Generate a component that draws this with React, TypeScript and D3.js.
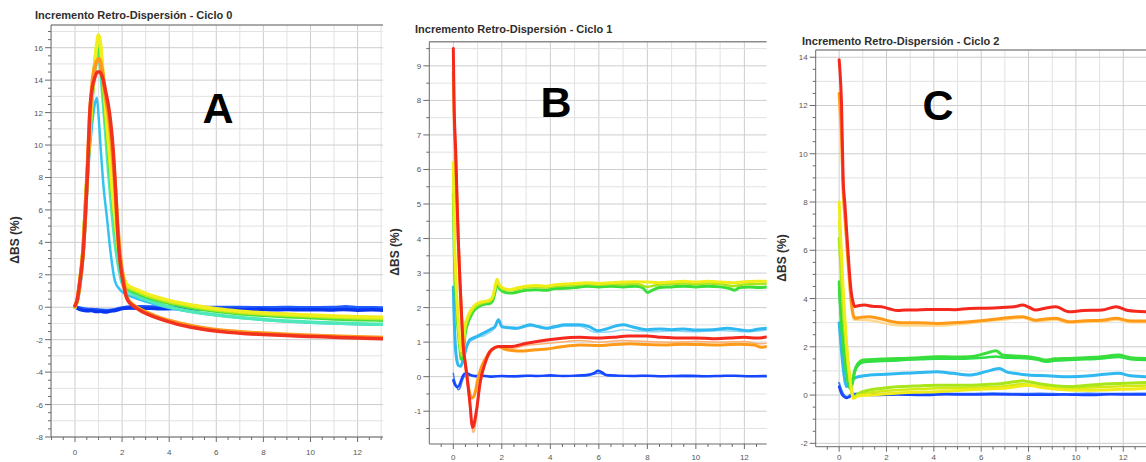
import React from 'react';
import * as d3 from 'd3';

type Pt = [number, number];

const FONT = '"Liberation Sans", Arial, Helvetica, sans-serif';

// tick labels
const xTicks = [0, 2, 4, 6, 8, 10, 12];
const yTicksA = [-8, -6, -4, -2, 0, 2, 4, 6, 8, 10, 12, 14, 16];
const yTicksB = [-1, 0, 1, 2, 3, 4, 5, 6, 7, 8, 9];
const yTicksC = [-2, 0, 2, 4, 6, 8, 10, 12, 14];

// ---- Ciclo 0 (A) ----
const aBlue: Pt[] = [[0, 0.05], [0.12, -0.08], [0.3, -0.18], [0.5, -0.22], [0.7, -0.2], [0.9, -0.27], [1.1, -0.25], [1.3, -0.3], [1.5, -0.24], [1.7, -0.2], [1.9, -0.12], [2.1, -0.06], [2.4, -0.05], [2.8, -0.08], [3.2, -0.06], [3.6, -0.1], [4.2, -0.08], [4.8, -0.12], [5.4, -0.1], [6, -0.13], [6.6, -0.12], [7.2, -0.15], [7.8, -0.13], [8.4, -0.16], [9, -0.14], [9.6, -0.16], [10.2, -0.15], [10.8, -0.17], [11.4, -0.14], [12, -0.18], [12.6, -0.16], [13.1, -0.18]];
const aBlue2: Pt[] = [[0, 0], [0.2, -0.05], [0.5, -0.12], [0.8, -0.15], [1.1, -0.18], [1.4, -0.2], [1.7, -0.15], [2.0, -0.05], [2.3, 0.02], [2.8, 0.03], [3.4, 0.02], [4, 0], [5, 0], [6, -0.02], [7, -0.02], [8, -0.03], [9, -0.02], [10, -0.03], [11, -0.02], [11.5, 0.03], [12, -0.03], [13.1, -0.04]];
const aCyan: Pt[] = [[0, 0], [0.15, 0.6], [0.3, 2.2], [0.45, 5.2], [0.57, 8.6], [0.72, 11.2], [0.85, 12.6], [0.93, 12.9], [1.0, 11.8], [1.1, 9.6], [1.22, 7.3], [1.35, 5.6], [1.5, 3.5], [1.7, 1.6], [1.9, 1.1], [2.1, 0.85], [2.5, 0.6], [3, 0.35], [4, -0.05], [5, -0.3], [6, -0.5], [7, -0.65], [8, -0.78], [9, -0.88], [10, -0.95], [11, -1.0], [12, -1.05], [13.1, -1.08]];
const aTeal: Pt[] = [[0, 0], [0.1, 0.5], [0.2, 1.5], [0.35, 3.6], [0.45, 6.2], [0.57, 9.3], [0.7, 12.2], [0.82, 14.3], [0.92, 15.3], [0.98, 15.5], [1.06, 15.0], [1.18, 13.0], [1.3, 10.8], [1.42, 8.4], [1.55, 6.2], [1.7, 4.0], [1.85, 2.5], [2.0, 1.5], [2.2, 1.05], [2.6, 0.72], [3, 0.48], [3.5, 0.22], [4, 0.02], [5, -0.28], [6, -0.48], [7, -0.63], [8, -0.75], [9, -0.85], [10, -0.92], [11, -0.97], [12, -1.02], [13.1, -1.05]];
const aGreen: Pt[] = [[0, 0], [0.1, 0.5], [0.2, 1.5], [0.35, 3.7], [0.45, 6.4], [0.57, 9.5], [0.7, 12.5], [0.82, 14.6], [0.92, 15.7], [1.0, 16.0], [1.08, 15.5], [1.2, 13.4], [1.35, 10.8], [1.48, 8.6], [1.6, 6.6], [1.72, 5.0], [1.87, 3.2], [2.0, 2.0], [2.1, 1.5], [2.2, 1.2], [2.6, 0.9], [3, 0.65], [3.5, 0.42], [4, 0.25], [5, -0.05], [6, -0.25], [7, -0.4], [8, -0.5], [9, -0.58], [10, -0.65], [11, -0.72], [12, -0.77], [13.1, -0.8]];
const aLime: Pt[] = [[0, 0], [0.1, 0.5], [0.2, 1.5], [0.35, 3.8], [0.45, 6.5], [0.57, 9.5], [0.7, 12.6], [0.82, 14.8], [0.92, 16.1], [1.0, 16.5], [1.08, 16.0], [1.2, 13.9], [1.35, 11.2], [1.49, 8.9], [1.6, 6.9], [1.7, 5.4], [1.85, 3.5], [2.0, 2.2], [2.1, 1.65], [2.2, 1.3], [2.6, 1.0], [3, 0.75], [3.5, 0.52], [4, 0.33], [5, 0.05], [6, -0.17], [7, -0.32], [8, -0.42], [9, -0.5], [10, -0.55], [11, -0.62], [12, -0.67], [13.1, -0.7]];
const aYellow: Pt[] = [[0, 0], [0.1, 0.5], [0.2, 1.5], [0.35, 3.8], [0.45, 6.5], [0.57, 9.5], [0.7, 12.5], [0.82, 14.5], [0.92, 16.2], [1.0, 16.8], [1.08, 16.3], [1.2, 14.2], [1.35, 11.5], [1.49, 9.1], [1.6, 7.0], [1.7, 5.6], [1.85, 3.6], [2.0, 2.2], [2.1, 1.7], [2.2, 1.4], [2.6, 1.1], [3, 0.85], [3.5, 0.62], [4, 0.42], [5, 0.12], [6, -0.1], [7, -0.25], [8, -0.35], [9, -0.42], [10, -0.48], [11, -0.54], [12, -0.58], [13.1, -0.62]];
const aOrange: Pt[] = [[0, 0.05], [0.1, 0.5], [0.2, 1.5], [0.35, 3.6], [0.45, 6.2], [0.55, 9.2], [0.64, 12.0], [0.75, 14.0], [0.88, 15.0], [1.02, 15.3], [1.15, 14.6], [1.3, 13.0], [1.45, 11.6], [1.58, 9.8], [1.7, 7.5], [1.8, 5.2], [1.9, 3.4], [2.0, 2.2], [2.1, 1.3], [2.2, 0.6], [2.5, 0.1], [2.8, -0.15], [3.2, -0.42], [3.6, -0.65], [4, -0.83], [4.5, -1.02], [5, -1.17], [5.7, -1.34], [6.5, -1.47], [7.3, -1.56], [8, -1.61], [9, -1.68], [10, -1.74], [11, -1.79], [12, -1.84], [13.1, -1.88]];
const aRed: Pt[] = [[0, 0.1], [0.1, 0.5], [0.2, 1.5], [0.35, 3.5], [0.45, 6.0], [0.55, 9.0], [0.62, 11.8], [0.72, 13.4], [0.85, 14.2], [0.95, 14.5], [1.06, 14.5], [1.18, 14.1], [1.3, 13.3], [1.42, 12.4], [1.52, 11.3], [1.63, 9.5], [1.72, 7.3], [1.8, 5.0], [1.88, 3.3], [1.97, 2.2], [2.05, 1.5], [2.15, 0.8], [2.25, 0.4], [2.5, 0.05], [2.76, -0.2], [3.2, -0.5], [3.6, -0.72], [4, -0.9], [4.5, -1.1], [5, -1.25], [5.7, -1.42], [6.5, -1.55], [7.3, -1.63], [8, -1.68], [9, -1.75], [10, -1.8], [11, -1.85], [12, -1.9], [13.1, -1.95]];

// ---- Ciclo 1 (B) ----
const bBlue: Pt[] = [[0, -0.1], [0.06, -0.22], [0.14, -0.3], [0.22, -0.28], [0.3, -0.15], [0.38, 0], [0.46, 0.08], [0.55, 0.1], [0.7, 0.05], [0.9, 0.02], [1.2, 0.03], [1.6, 0], [2.0, 0.02], [2.5, 0.01], [3.0, 0.03], [3.5, 0.02], [4.0, 0.04], [4.5, 0.02], [5.0, 0.03], [5.5, 0.05], [5.8, 0.1], [5.95, 0.17], [6.1, 0.14], [6.3, 0.05], [6.8, 0.03], [7.4, 0.02], [8.0, 0.03], [8.6, 0.01], [9.2, 0.02], [9.8, 0.03], [10.4, 0.01], [11.0, 0.02], [11.6, 0.03], [12.2, 0.01], [12.95, 0.02]];
const bBlue2: Pt[] = [[0, 0.1], [0.05, -0.1], [0.12, -0.25], [0.2, -0.38], [0.28, -0.33], [0.36, -0.15], [0.45, 0], [0.6, 0.04], [0.9, 0], [1.5, 0.02], [2.5, 0], [3.5, 0.02], [4.5, 0.01], [5.5, 0.02], [6.0, 0.1], [6.4, 0.02], [7.5, 0.01], [8.5, 0.02], [9.5, 0], [10.5, 0.01], [11.5, 0.02], [12.95, 0]];
const bCyan: Pt[] = [[0, 2.6], [0.04, 1.6], [0.08, 0.95], [0.14, 0.5], [0.22, 0.32], [0.3, 0.3], [0.41, 0.5], [0.55, 0.87], [0.69, 1.07], [0.96, 1.16], [1.24, 1.26], [1.51, 1.36], [1.72, 1.45], [1.86, 1.65], [2.0, 1.45], [2.3, 1.42], [2.6, 1.4], [3.16, 1.5], [3.5, 1.45], [3.85, 1.4], [4.2, 1.45], [4.6, 1.5], [5.2, 1.5], [5.6, 1.45], [5.95, 1.33], [6.3, 1.38], [6.6, 1.45], [7.0, 1.5], [7.4, 1.44], [7.97, 1.36], [8.5, 1.38], [9, 1.36], [9.5, 1.38], [10, 1.35], [10.7, 1.36], [11.3, 1.4], [11.8, 1.36], [12.2, 1.33], [12.6, 1.38], [12.95, 1.4]];
const bCyan2: Pt[] = [[0, 2.2], [0.08, 0.9], [0.2, 0.35], [0.3, 0.32], [0.45, 0.6], [0.6, 0.95], [0.9, 1.1], [1.3, 1.2], [1.7, 1.4], [1.86, 1.6], [2.0, 1.42], [2.6, 1.38], [3.2, 1.46], [3.9, 1.38], [4.6, 1.46], [5.2, 1.46], [5.9, 1.28], [6.5, 1.3], [7.0, 1.36], [7.6, 1.32], [8.2, 1.3], [9, 1.32], [10, 1.3], [11, 1.34], [12, 1.3], [12.95, 1.35]];
const bGreen: Pt[] = [[0, 5.3], [0.04, 3.6], [0.1, 2.4], [0.18, 1.5], [0.26, 0.9], [0.33, 0.5], [0.4, 0.6], [0.48, 1.2], [0.6, 1.55], [0.75, 1.8], [0.9, 1.95], [1.1, 2.05], [1.3, 2.1], [1.5, 2.12], [1.62, 2.2], [1.72, 2.45], [1.8, 2.72], [1.9, 2.55], [2.1, 2.45], [2.34, 2.42], [2.7, 2.46], [3.0, 2.5], [3.4, 2.52], [3.8, 2.5], [4.2, 2.55], [4.6, 2.56], [5.0, 2.58], [5.5, 2.62], [6.0, 2.6], [6.5, 2.62], [7.0, 2.6], [7.5, 2.62], [7.8, 2.58], [8.0, 2.44], [8.2, 2.5], [8.5, 2.58], [9.0, 2.6], [9.5, 2.62], [10.0, 2.6], [10.5, 2.62], [11.0, 2.6], [11.4, 2.55], [11.6, 2.5], [11.8, 2.58], [12.2, 2.6], [12.6, 2.58], [12.95, 2.6]];
const bLime: Pt[] = [[0, 5.8], [0.04, 4.0], [0.1, 2.7], [0.18, 1.7], [0.26, 1.0], [0.33, 0.6], [0.4, 0.75], [0.48, 1.35], [0.6, 1.65], [0.75, 1.88], [0.9, 2.02], [1.1, 2.1], [1.3, 2.15], [1.5, 2.18], [1.62, 2.28], [1.72, 2.55], [1.8, 2.8], [1.9, 2.62], [2.1, 2.52], [2.34, 2.5], [2.7, 2.54], [3.0, 2.58], [3.4, 2.6], [3.8, 2.58], [4.2, 2.62], [4.6, 2.63], [5.0, 2.65], [5.5, 2.68], [6.0, 2.66], [6.5, 2.68], [7.0, 2.67], [7.5, 2.7], [8.0, 2.6], [8.3, 2.64], [8.6, 2.67], [9.0, 2.68], [9.5, 2.7], [10.0, 2.68], [10.5, 2.7], [11.0, 2.68], [11.5, 2.62], [12.0, 2.67], [12.5, 2.68], [12.95, 2.7]];
const bYellow: Pt[] = [[0, 6.2], [0.04, 4.4], [0.1, 3.0], [0.18, 1.9], [0.26, 1.1], [0.33, 0.75], [0.4, 0.9], [0.48, 1.45], [0.6, 1.75], [0.75, 1.95], [0.9, 2.08], [1.1, 2.15], [1.3, 2.18], [1.5, 2.22], [1.62, 2.32], [1.72, 2.6], [1.8, 2.82], [1.9, 2.66], [2.1, 2.55], [2.34, 2.52], [2.7, 2.58], [3.0, 2.62], [3.4, 2.64], [3.8, 2.62], [4.2, 2.66], [4.6, 2.68], [5.0, 2.7], [5.5, 2.72], [6.0, 2.7], [6.5, 2.72], [7.0, 2.74], [7.5, 2.75], [8.0, 2.74], [8.5, 2.72], [9.0, 2.74], [9.5, 2.76], [10.0, 2.74], [10.5, 2.76], [11.0, 2.74], [11.5, 2.72], [12.0, 2.75], [12.5, 2.76], [12.95, 2.76]];
const bOrange2: Pt[] = [[0, 9.0], [0.05, 7.6], [0.12, 5.8], [0.2, 4.0], [0.28, 2.6], [0.36, 1.4], [0.45, 0.6], [0.55, 0], [0.65, -0.7], [0.75, -1.4], [0.82, -1.62], [0.9, -1.45], [1.0, -0.9], [1.12, -0.2], [1.3, 0.35], [1.55, 0.7], [1.86, 0.85], [2.4, 0.82], [3.0, 0.9], [3.7, 0.95], [4.4, 1.0], [5.2, 1.05], [6.0, 1.0], [7.0, 1.05], [8.0, 1.02], [9.0, 1.0], [10, 1.02], [11, 1.0], [12, 1.02], [12.7, 0.95], [12.95, 0.98]];
const bOrange: Pt[] = [[0, 8.8], [0.03, 7.6], [0.1, 6.2], [0.16, 4.8], [0.21, 3.8], [0.28, 2.6], [0.35, 1.6], [0.41, 0.9], [0.5, 0.35], [0.6, -0.2], [0.68, -0.5], [0.76, -0.62], [0.84, -0.58], [0.92, -0.4], [1.0, -0.1], [1.1, 0.15], [1.2, 0.35], [1.35, 0.55], [1.5, 0.72], [1.7, 0.83], [1.86, 0.87], [2.1, 0.8], [2.4, 0.76], [2.89, 0.74], [3.4, 0.78], [3.85, 0.8], [4.4, 0.86], [5.22, 0.92], [6, 0.9], [6.6, 0.93], [7.3, 0.95], [8, 0.93], [8.8, 0.92], [9.5, 0.94], [10.2, 0.93], [11, 0.92], [11.8, 0.94], [12.4, 0.92], [12.7, 0.85], [12.95, 0.88]];
const bRed: Pt[] = [[0, 9.5], [0.03, 8.0], [0.1, 6.5], [0.16, 5.0], [0.21, 3.9], [0.28, 2.7], [0.35, 1.64], [0.41, 0.87], [0.48, 0.45], [0.55, 0.1], [0.62, -0.35], [0.69, -0.8], [0.76, -1.35], [0.8, -1.47], [0.86, -1.35], [0.96, -0.96], [1.1, -0.19], [1.31, 0.39], [1.58, 0.78], [1.86, 0.87], [2.34, 0.87], [3.03, 0.97], [3.71, 1.05], [4.3, 1.1], [5.22, 1.14], [6, 1.12], [6.6, 1.14], [7.2, 1.18], [7.97, 1.18], [8.6, 1.14], [9.3, 1.12], [10, 1.12], [10.7, 1.1], [11.4, 1.12], [12, 1.14], [12.5, 1.12], [12.95, 1.15]];

// ---- Ciclo 2 (C) ----
const cBlue: Pt[] = [[0, 0.35], [0.08, 0.1], [0.18, -0.05], [0.3, -0.12], [0.42, -0.08], [0.55, 0], [0.8, 0.02], [1.5, 0], [2.5, 0.02], [3.5, 0], [4.5, 0.03], [5.5, 0.02], [6.5, 0.03], [7.5, 0.02], [8.5, 0.01], [9.5, 0.02], [10.5, 0], [11.5, 0.03], [12.4, 0.02], [12.95, 0.02]];
const cBlue2: Pt[] = [[0, 0.5], [0.1, 0.2], [0.22, -0.02], [0.35, -0.08], [0.5, 0.03], [0.8, 0.06], [1.5, 0.05], [2.5, 0.06], [3.5, 0.04], [4.5, 0.06], [5.5, 0.05], [6.5, 0.07], [7.5, 0.05], [8.5, 0.06], [9.5, 0.04], [10.5, 0.06], [11.5, 0.05], [12.95, 0.06]];
const cCyan: Pt[] = [[0, 3.0], [0.05, 2.4], [0.15, 1.3], [0.25, 0.55], [0.31, 0.35], [0.4, 0.45], [0.52, 0.62], [0.65, 0.7], [0.8, 0.76], [1.29, 0.83], [2.0, 0.86], [2.69, 0.9], [3.4, 0.93], [4.1, 0.97], [4.8, 0.9], [5.5, 0.83], [6.2, 0.97], [6.77, 1.1], [7.1, 0.95], [7.4, 0.9], [7.98, 0.83], [8.8, 0.8], [9.7, 0.76], [10.6, 0.8], [11.2, 0.86], [11.8, 0.9], [12.3, 0.8], [12.95, 0.76]];
const cGreen: Pt[] = [[0, 4.7], [0.05, 3.8], [0.12, 2.8], [0.2, 1.9], [0.3, 1.05], [0.4, 0.5], [0.48, 0.3], [0.55, 0.5], [0.65, 1.0], [0.8, 1.31], [1.01, 1.45], [1.6, 1.48], [2.2, 1.5], [2.69, 1.52], [3.4, 1.55], [4.1, 1.59], [4.8, 1.58], [5.5, 1.59], [6.2, 1.73], [6.63, 1.84], [6.9, 1.66], [7.4, 1.62], [7.98, 1.59], [8.4, 1.52], [8.73, 1.45], [9.1, 1.5], [9.7, 1.52], [10.4, 1.55], [11.1, 1.59], [11.8, 1.66], [12.3, 1.55], [12.95, 1.52]];
const cGreen2: Pt[] = [[0, 4.4], [0.05, 3.5], [0.12, 2.5], [0.2, 1.65], [0.3, 0.9], [0.4, 0.4], [0.48, 0.25], [0.56, 0.45], [0.66, 0.95], [0.8, 1.22], [1.01, 1.36], [1.6, 1.4], [2.2, 1.42], [2.69, 1.45], [3.4, 1.48], [4.1, 1.5], [4.8, 1.5], [5.5, 1.52], [6.2, 1.56], [6.63, 1.6], [6.9, 1.56], [7.4, 1.54], [7.98, 1.52], [8.4, 1.46], [8.73, 1.38], [9.1, 1.42], [9.7, 1.45], [10.4, 1.48], [11.1, 1.52], [11.8, 1.58], [12.3, 1.48], [12.95, 1.45]];
const cLime: Pt[] = [[0, 6.5], [0.1, 4.8], [0.2, 3.2], [0.3, 2.0], [0.4, 1.0], [0.5, 0.35], [0.58, 0], [0.66, -0.07], [0.8, 0.05], [1.29, 0.21], [2.0, 0.3], [2.69, 0.35], [3.4, 0.38], [4.1, 0.41], [5.5, 0.41], [6.2, 0.44], [6.9, 0.48], [7.4, 0.55], [7.75, 0.59], [8.0, 0.55], [8.6, 0.45], [9.2, 0.38], [9.7, 0.35], [10.4, 0.4], [11.1, 0.45], [11.8, 0.48], [12.4, 0.5], [12.95, 0.52]];
const cLime2: Pt[] = [[0, 7.2], [0.1, 5.3], [0.2, 3.6], [0.3, 2.2], [0.4, 1.1], [0.5, 0.4], [0.6, -0.05], [0.68, -0.1], [0.8, 0], [1.29, 0.1], [2.0, 0.18], [2.69, 0.22], [3.4, 0.25], [4.1, 0.28], [5.5, 0.3], [6.2, 0.32], [6.9, 0.36], [7.4, 0.42], [7.75, 0.46], [8.0, 0.42], [8.6, 0.34], [9.2, 0.28], [9.7, 0.26], [10.4, 0.3], [11.1, 0.33], [11.8, 0.36], [12.4, 0.38], [12.95, 0.4]];
const cYellow: Pt[] = [[0, 8.0], [0.08, 6.2], [0.18, 4.2], [0.28, 2.6], [0.38, 1.4], [0.48, 0.5], [0.55, 0], [0.6, -0.14], [0.7, -0.08], [0.9, -0.02], [1.29, 0], [2.0, 0.05], [2.7, 0.1], [3.4, 0.12], [4.1, 0.14], [4.8, 0.18], [5.5, 0.22], [6.2, 0.25], [6.9, 0.28], [7.5, 0.35], [8.0, 0.41], [8.5, 0.32], [9.0, 0.26], [9.7, 0.21], [10.4, 0.2], [11.1, 0.21], [11.8, 0.24], [12.4, 0.25], [12.95, 0.28]];
const cPale: Pt[] = [[0, 12.0], [0.1, 10.3], [0.17, 8.2], [0.24, 7.2], [0.38, 5.3], [0.52, 3.6], [0.62, 3.12], [0.9, 3.12], [1.29, 3.1], [1.8, 3.0], [2.2, 2.92], [2.69, 2.88], [3.3, 2.88], [4.1, 2.88], [4.8, 2.92], [5.5, 2.98], [6.2, 3.06], [6.9, 3.12], [7.75, 3.2], [8.3, 3.06], [9.15, 3.12], [9.7, 3.0], [10.4, 3.03], [11.1, 3.05], [11.7, 3.12], [12.3, 3.02], [12.95, 3.02]];
const cOrange: Pt[] = [[0, 12.5], [0.1, 10.8], [0.17, 8.5], [0.24, 7.5], [0.38, 5.5], [0.52, 3.8], [0.62, 3.25], [0.66, 3.18], [0.9, 3.22], [1.29, 3.25], [1.8, 3.15], [2.2, 3.05], [2.69, 3.0], [3.3, 3.0], [4.1, 2.97], [4.8, 3.0], [5.5, 3.04], [6.2, 3.1], [6.9, 3.18], [7.75, 3.25], [8.3, 3.1], [8.7, 3.15], [9.15, 3.18], [9.7, 3.04], [10.4, 3.08], [11.1, 3.1], [11.7, 3.18], [12.3, 3.07], [12.95, 3.07]];
const cRed: Pt[] = [[0, 13.9], [0.03, 13.5], [0.1, 12.1], [0.17, 8.9], [0.24, 7.95], [0.31, 6.9], [0.38, 5.87], [0.45, 4.9], [0.52, 4.2], [0.6, 3.8], [0.66, 3.66], [0.8, 3.7], [1.08, 3.73], [1.4, 3.68], [1.79, 3.66], [2.1, 3.58], [2.48, 3.5], [2.8, 3.52], [3.19, 3.52], [3.7, 3.55], [4.3, 3.55], [4.9, 3.54], [5.5, 3.59], [6.2, 3.6], [6.9, 3.63], [7.4, 3.66], [7.75, 3.73], [8.0, 3.65], [8.3, 3.52], [8.7, 3.6], [9.15, 3.66], [9.7, 3.45], [10.3, 3.5], [11.1, 3.52], [11.7, 3.66], [12.2, 3.5], [12.95, 3.45]];

const seriesA = [
  { c: '#1f5cff', w: 3.5, pts: aBlue2 },
  { c: '#0a36f0', w: 3.5, pts: aBlue },
  { c: '#34c2f2', w: 2.5, pts: aCyan },
  { c: '#4fe8b8', w: 3.5, pts: aTeal },
  { c: '#45e040', w: 3.5, pts: aGreen },
  { c: '#b6ec1c', w: 3.5, pts: aLime },
  { c: '#f2ee1e', w: 3.5, pts: aYellow },
  { c: '#ff9a1e', w: 4, pts: aOrange },
  { c: '#f0321e', w: 3.5, pts: aRed },
];
const seriesB = [
  { c: '#3a7aff', w: 1.5, pts: bBlue2 },
  { c: '#1646ff', w: 2.5, pts: bBlue },
  { c: '#8fd8f5', w: 1.5, pts: bCyan2 },
  { c: '#30b8f0', w: 3, pts: bCyan },
  { c: '#3ade3a', w: 3, pts: bGreen },
  { c: '#a8e61a', w: 2.5, pts: bLime },
  { c: '#f0ec18', w: 3, pts: bYellow },
  { c: '#ffb070', w: 1.5, pts: bOrange2 },
  { c: '#ff9a18', w: 3, pts: bOrange },
  { c: '#f5281e', w: 3, pts: bRed },
];
const seriesC = [
  { c: '#3a7aff', w: 2, pts: cBlue2 },
  { c: '#1646ff', w: 2.5, pts: cBlue },
  { c: '#30b8f0', w: 3, pts: cCyan },
  { c: '#2ee048', w: 2.5, pts: cGreen2 },
  { c: '#3ade3a', w: 3, pts: cGreen },
  { c: '#d2ea10', w: 2.5, pts: cLime2 },
  { c: '#a8e61a', w: 3, pts: cLime },
  { c: '#f0ec18', w: 3, pts: cYellow },
  { c: '#ffd890', w: 2.5, pts: cPale },
  { c: '#ff9a18', w: 3, pts: cOrange },
  { c: '#f5281e', w: 3, pts: cRed },
];

const panels = [
  {
    id: 'a', title: 'Incremento Retro-Dispersión - Ciclo 0', letter: 'A', series: seriesA,
    box: { left: 51, top: 25, right: 383, bottom: 437 }, xDomain: [-1.02, 13.08], yDomain: [-8, 17.4],
    yTicks: yTicksA, yGridStep: 1, titleX: 35, titleY: 19, letterX: 218, letterY: 123,
    yLabelX: 15, yLabelY: 240, xLabelDy: 18,
  },
  {
    id: 'b', title: 'Incremento Retro-Dispersión - Ciclo 1', letter: 'B', series: seriesB,
    box: { left: 429.3, top: 41.7, right: 766.7, bottom: 444 }, xDomain: [-0.99, 12.92], yDomain: [-1.95, 9.7],
    yTicks: yTicksB, yGridStep: 0.5, titleX: 415, titleY: 33, letterX: 556, letterY: 117,
    yLabelX: 395, yLabelY: 252, xLabelDy: 15.5,
  },
  {
    id: 'c', title: 'Incremento Retro-Dispersión - Ciclo 2', letter: 'C', series: seriesC,
    box: { left: 815.7, top: 50, right: 1146, bottom: 446.7 }, xDomain: [-0.99, 12.96], yDomain: [-2.14, 14.3],
    yTicks: yTicksC, yGridStep: 1, titleX: 802, titleY: 44.5, letterX: 938, letterY: 119.5,
    yLabelX: 782, yLabelY: 258, xLabelDy: 13.5,
  },
];

const r2 = (v: number) => Math.round(v * 100) / 100;

function Panel({ p }: { p: any }) {
  const { box } = p;
  const x = d3.scaleLinear().domain(p.xDomain).range([box.left, box.right]);
  const y = d3.scaleLinear().domain(p.yDomain).range([box.bottom, box.top]);
  const line = d3.line<Pt>().x(d => x(d[0])).y(d => y(d[1])).curve(d3.curveMonotoneX);

  const xGrid = d3.range(Math.ceil(p.xDomain[0]), p.xDomain[1], 1).map(r2);
  const yGrid = d3.range(Math.ceil(p.yDomain[0] / p.yGridStep) * p.yGridStep, p.yDomain[1], p.yGridStep).map(r2);
  const xMinor = d3.range(Math.ceil(p.xDomain[0] * 2) / 2, p.xDomain[1], 0.5).map(r2);
  const yMinor = d3.range(Math.ceil(p.yDomain[0] * 2) / 2, p.yDomain[1], 0.5).map(r2);

  return (
    <g>
      <defs>
        <clipPath id={`clip-${p.id}`}>
          <rect x={box.left} y={box.top} width={box.right - box.left} height={box.bottom - box.top} />
        </clipPath>
      </defs>
      <text x={p.titleX} y={p.titleY} fontFamily={FONT} fontWeight="bold" fontSize={11} fill="#2e2e2e">{p.title}</text>
      {xGrid.map(v => (
        <line key={`gx${v}`} x1={x(v)} x2={x(v)} y1={box.top} y2={box.bottom}
          stroke={xTicks.includes(v) ? '#cdcdcd' : '#e2e2e2'} strokeWidth={1} />
      ))}
      {yGrid.map(v => (
        <line key={`gy${v}`} x1={box.left} x2={box.right} y1={y(v)} y2={y(v)}
          stroke={p.yTicks.includes(v) ? '#cdcdcd' : '#e2e2e2'} strokeWidth={1} />
      ))}
      <text x={p.letterX} y={p.letterY} textAnchor="middle" fontFamily={FONT} fontWeight="bold" fontSize={43} fill="#000">{p.letter}</text>
      <g clipPath={`url(#clip-${p.id})`}>
        {p.series.map((s: any, i: number) => (
          <path key={i} d={line(s.pts) || ''} fill="none" stroke={s.c} strokeWidth={s.w}
            strokeLinejoin="round" strokeLinecap="round" />
        ))}
      </g>
      <line x1={box.left} x2={box.right} y1={box.top} y2={box.top} stroke="#8c8c8c" strokeWidth={1.5} />
      <line x1={box.left} x2={box.left} y1={box.top} y2={box.bottom} stroke="#6a6a6a" strokeWidth={1} />
      <line x1={box.left} x2={box.right} y1={box.bottom} y2={box.bottom} stroke="#6a6a6a" strokeWidth={1} />
      {xMinor.map(v => (
        <line key={`tx${v}`} x1={x(v)} x2={x(v)} y1={box.bottom} y2={box.bottom + (xTicks.includes(v) ? 5 : 3)}
          stroke="#6a6a6a" strokeWidth={1} />
      ))}
      {yMinor.map(v => (
        <line key={`ty${v}`} x1={box.left - (p.yTicks.includes(v) ? 6 : 3)} x2={box.left} y1={y(v)} y2={y(v)}
          stroke="#6a6a6a" strokeWidth={1} />
      ))}
      {xTicks.map(v => (
        <text key={`lx${v}`} x={x(v)} y={box.bottom + p.xLabelDy} textAnchor="middle"
          fontFamily={FONT} fontSize={8} fill="#555">{v}</text>
      ))}
      {p.yTicks.map((v: number) => (
        <text key={`ly${v}`} x={box.left - 8} y={y(v) + 3} textAnchor="end"
          fontFamily={FONT} fontSize={8} fill="#555">{v}</text>
      ))}
      <text transform={`translate(${p.yLabelX},${p.yLabelY}) rotate(-90)`} textAnchor="middle" dy="0.35em"
        fontFamily={FONT} fontWeight="bold" fontSize={12} fill="#2e2e2e">ΔBS (%)</text>
    </g>
  );
}

export default function App() {
  return (
    <svg width={1146} height={462} style={{ position: 'absolute', left: 0, top: 0, background: '#fff' }}>
      <rect x={0} y={0} width={1146} height={462} fill="#fff" />
      {panels.map(p => <Panel key={p.id} p={p} />)}
    </svg>
  );
}
